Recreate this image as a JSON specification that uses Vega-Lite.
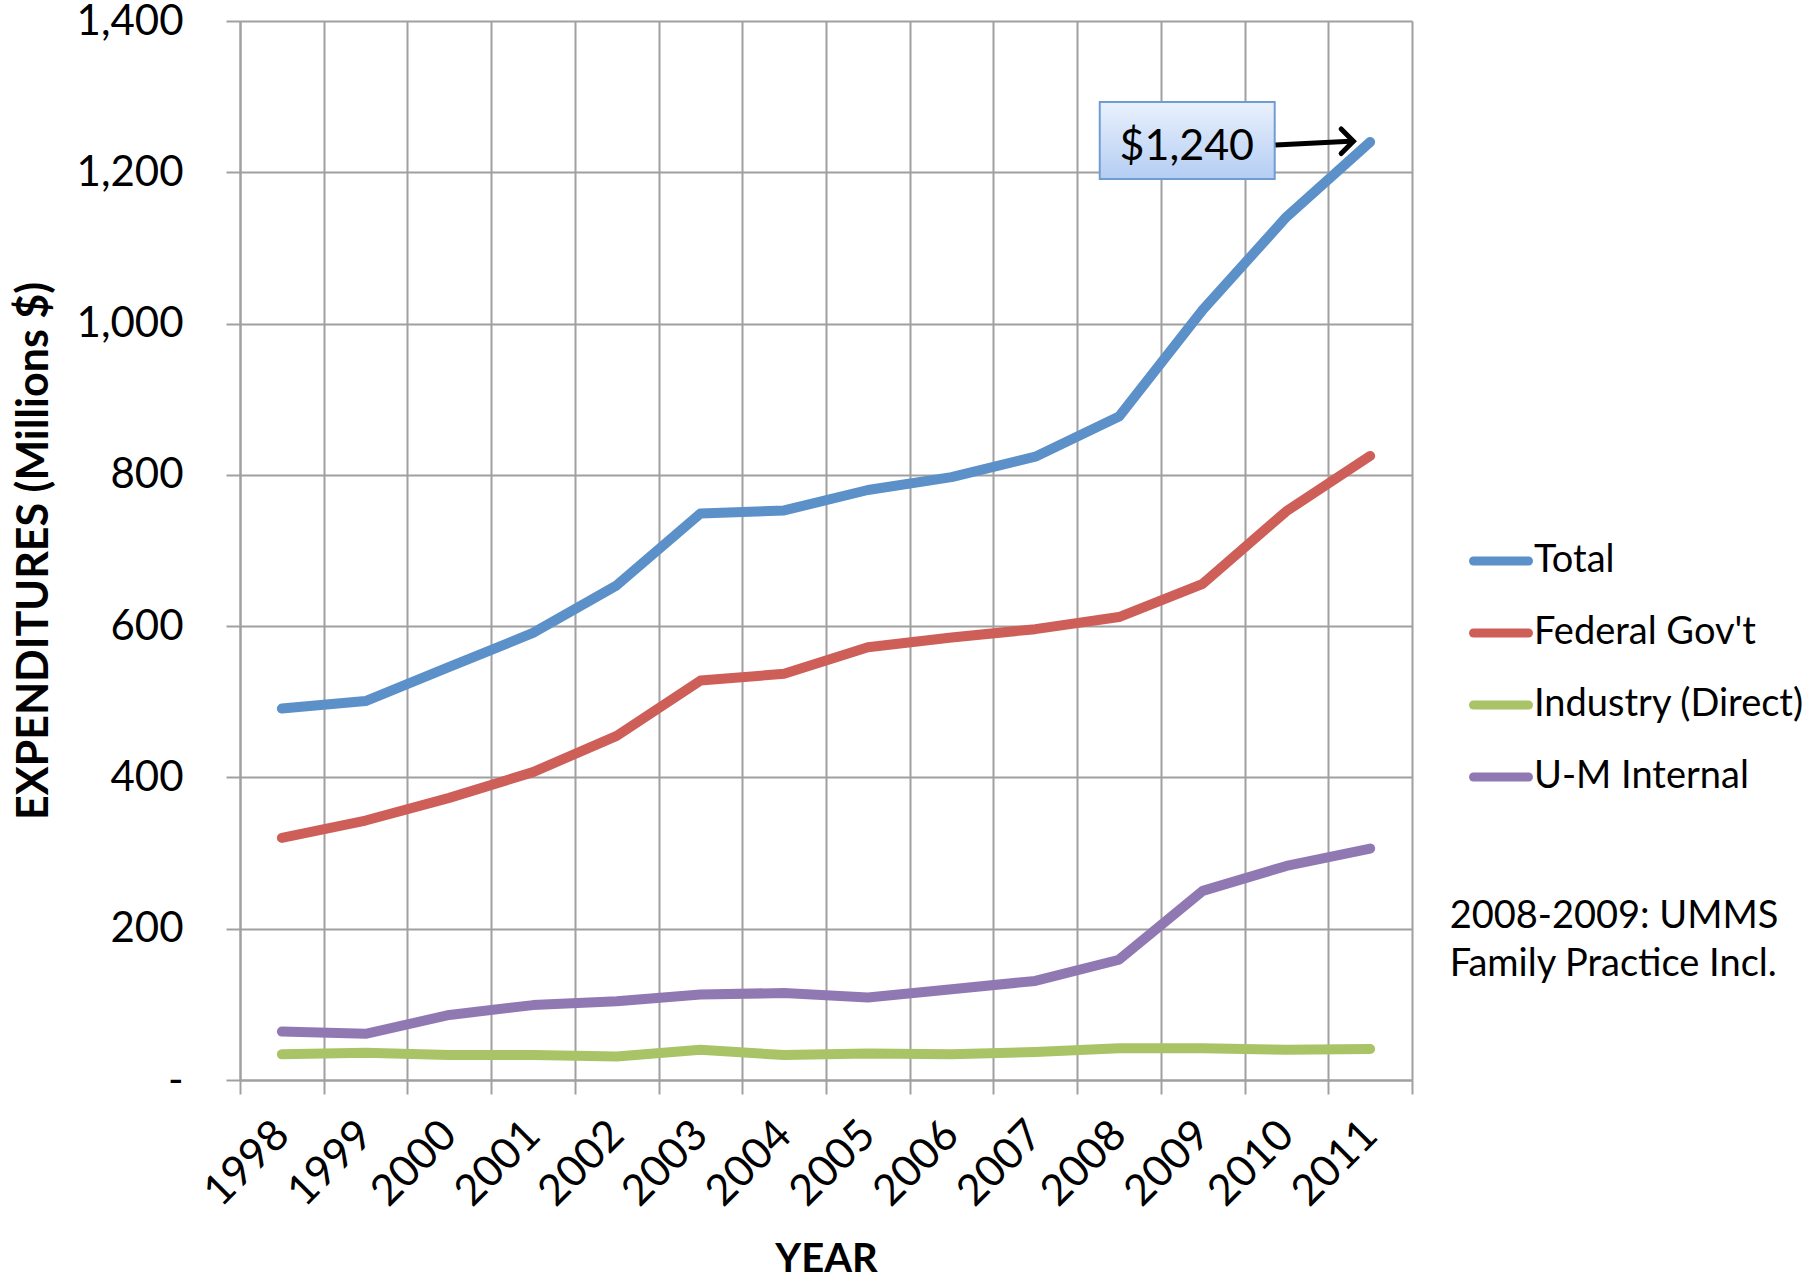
{
  "$schema": "https://vega.github.io/schema/vega-lite/v6.json",
  "width": 1172,
  "height": 1059,
  "autosize": {"type": "none"},
  "padding": {"left": 240, "top": 21, "right": 400, "bottom": 202},
  "background": "white",
  "config": {
    "font": "Lato",
    "view": {"stroke": null},
    "text": {"font": "Lato"}
  },
  "datasets": {
    "series": [
      {"year": 1998, "series": "Total", "value": 491},
      {"year": 1999, "series": "Total", "value": 501},
      {"year": 2000, "series": "Total", "value": 546},
      {"year": 2001, "series": "Total", "value": 591},
      {"year": 2002, "series": "Total", "value": 654},
      {"year": 2003, "series": "Total", "value": 749},
      {"year": 2004, "series": "Total", "value": 753},
      {"year": 2005, "series": "Total", "value": 780},
      {"year": 2006, "series": "Total", "value": 797},
      {"year": 2007, "series": "Total", "value": 824},
      {"year": 2008, "series": "Total", "value": 877},
      {"year": 2009, "series": "Total", "value": 1018},
      {"year": 2010, "series": "Total", "value": 1141},
      {"year": 2011, "series": "Total", "value": 1240},
      {"year": 1998, "series": "Federal Gov't", "value": 320},
      {"year": 1999, "series": "Federal Gov't", "value": 343},
      {"year": 2000, "series": "Federal Gov't", "value": 373},
      {"year": 2001, "series": "Federal Gov't", "value": 407},
      {"year": 2002, "series": "Federal Gov't", "value": 455},
      {"year": 2003, "series": "Federal Gov't", "value": 528},
      {"year": 2004, "series": "Federal Gov't", "value": 537},
      {"year": 2005, "series": "Federal Gov't", "value": 572},
      {"year": 2006, "series": "Federal Gov't", "value": 585},
      {"year": 2007, "series": "Federal Gov't", "value": 596},
      {"year": 2008, "series": "Federal Gov't", "value": 612},
      {"year": 2009, "series": "Federal Gov't", "value": 656},
      {"year": 2010, "series": "Federal Gov't", "value": 752},
      {"year": 2011, "series": "Federal Gov't", "value": 825},
      {"year": 1998, "series": "Industry (Direct)", "value": 34},
      {"year": 1999, "series": "Industry (Direct)", "value": 36},
      {"year": 2000, "series": "Industry (Direct)", "value": 33},
      {"year": 2001, "series": "Industry (Direct)", "value": 33},
      {"year": 2002, "series": "Industry (Direct)", "value": 31},
      {"year": 2003, "series": "Industry (Direct)", "value": 40},
      {"year": 2004, "series": "Industry (Direct)", "value": 33},
      {"year": 2005, "series": "Industry (Direct)", "value": 35},
      {"year": 2006, "series": "Industry (Direct)", "value": 34},
      {"year": 2007, "series": "Industry (Direct)", "value": 37},
      {"year": 2008, "series": "Industry (Direct)", "value": 42},
      {"year": 2009, "series": "Industry (Direct)", "value": 42},
      {"year": 2010, "series": "Industry (Direct)", "value": 40},
      {"year": 2011, "series": "Industry (Direct)", "value": 41},
      {"year": 1998, "series": "U-M Internal", "value": 64},
      {"year": 1999, "series": "U-M Internal", "value": 61},
      {"year": 2000, "series": "U-M Internal", "value": 86},
      {"year": 2001, "series": "U-M Internal", "value": 99},
      {"year": 2002, "series": "U-M Internal", "value": 104},
      {"year": 2003, "series": "U-M Internal", "value": 113},
      {"year": 2004, "series": "U-M Internal", "value": 115},
      {"year": 2005, "series": "U-M Internal", "value": 109},
      {"year": 2006, "series": "U-M Internal", "value": 120},
      {"year": 2007, "series": "U-M Internal", "value": 131},
      {"year": 2008, "series": "U-M Internal", "value": 159},
      {"year": 2009, "series": "U-M Internal", "value": 250},
      {"year": 2010, "series": "U-M Internal", "value": 283},
      {"year": 2011, "series": "U-M Internal", "value": 306}
    ]
  },
  "data": {"name": "series"},
  "resolve": {"axis": {"x": "independent"}, "scale": {"x": "shared"}},
  "layer": [
    {
      "mark": {"type": "line", "strokeWidth": 10, "strokeCap": "round", "strokeJoin": "round"},
      "encoding": {
        "x": {
          "field": "year", "type": "quantitative",
          "scale": {"domain": [1997.5, 2011.5], "nice": false, "zero": false},
          "axis": {
            "orient": "bottom",
            "values": [1997.5, 1998.5, 1999.5, 2000.5, 2001.5, 2002.5, 2003.5, 2004.5, 2005.5, 2006.5, 2007.5, 2008.5, 2009.5, 2010.5, 2011.5],
            "labels": false, "title": null,
            "grid": true, "gridColor": "#a0a0a0", "gridWidth": 2,
            "ticks": true, "tickSize": 14, "tickColor": "#a0a0a0", "tickWidth": 2,
            "domain": true, "domainColor": "#a0a0a0", "domainWidth": 2
          }
        },
        "y": {
          "field": "value", "type": "quantitative",
          "title": "EXPENDITURES (Millions $)",
          "scale": {"domain": [0, 1400], "nice": false},
          "axis": {
            "values": [0, 200, 400, 600, 800, 1000, 1200, 1400],
            "labelExpr": "datum.value === 0 ? '-\u2007' : format(datum.value, ',')",
            "labelFontSize": 42, "labelColor": "#000000", "labelPadding": 43, "labelFont": "Lato",
            "grid": true, "gridColor": "#a0a0a0", "gridWidth": 2,
            "ticks": true, "tickSize": 14, "tickColor": "#a0a0a0", "tickWidth": 2,
            "domain": true, "domainColor": "#a0a0a0", "domainWidth": 2,
            "title": "EXPENDITURES (Millions $)",
            "titleFontSize": 43, "titleFontWeight": "bold", "titleColor": "#000000", "titleFont": "Lato",
            "titlePadding": 20
          }
        },
        "color": {
          "field": "series", "type": "nominal",
          "scale": {
            "domain": ["Total", "Federal Gov't", "Industry (Direct)", "U-M Internal"],
            "range": ["#5b90c8", "#cd5f58", "#a8c467", "#9079b3"]
          },
          "legend": {
            "title": null, "orient": "none", "legendX": 1229, "legendY": 508,
            "symbolType": "stroke", "symbolSize": 3025, "symbolStrokeWidth": 9,
            "labelFontSize": 38, "labelColor": "#000000", "labelFont": "Lato",
            "labelOffset": 1, "rowPadding": 21, "padding": 0, "labelLimit": 400,
            "encode": {"symbols": {"update": {"strokeCap": {"value": "round"}}}}
          }
        }
      }
    },
    {
      "transform": [{"filter": "datum.series === 'Total' && datum.year === 2011"}],
      "mark": {
        "type": "rect",
        "fill": {"gradient": "linear", "x1": 0, "y1": 0, "x2": 0, "y2": 1,
          "stops": [{"offset": 0, "color": "#eaf1fd"}, {"offset": 1, "color": "#b4cdf3"}]},
        "stroke": "#6f9dd3", "strokeWidth": 2
      },
      "encoding": {
        "x": {"datum": 2007.77, "type": "quantitative", "axis": null},
        "x2": {"datum": 2009.86},
        "y": {"datum": 1293, "type": "quantitative", "title": "EXPENDITURES (Millions $)"},
        "y2": {"datum": 1191}
      }
    },
    {
      "transform": [{"filter": "datum.series === 'Total' && datum.year === 2011"}],
      "mark": {"type": "text", "fontSize": 43, "color": "#000000", "align": "center", "baseline": "middle", "font": "Lato"},
      "encoding": {
        "x": {"datum": 2008.81, "type": "quantitative", "axis": null},
        "y": {"datum": 1233, "type": "quantitative", "title": "EXPENDITURES (Millions $)"},
        "text": {"field": "value", "type": "quantitative", "format": "$,"}
      }
    },
    {
      "transform": [{"filter": "datum.series === 'Total' && datum.year === 2011"}],
      "mark": {"type": "rule", "color": "#000000", "strokeWidth": 5},
      "encoding": {
        "x": {"datum": 2009.87, "type": "quantitative", "axis": null},
        "x2": {"datum": 2010.76},
        "y": {"datum": 1236, "type": "quantitative", "title": "EXPENDITURES (Millions $)"},
        "y2": {"datum": 1241}
      }
    },
    {
      "transform": [{"filter": "datum.series === 'Total' && datum.year === 2011"}],
      "mark": {"type": "point", "shape": "M -1 -1 L 0 0 L -1 1", "filled": false, "stroke": "#000000", "strokeWidth": 5, "size": 600, "opacity": 1, "strokeCap": "round", "strokeJoin": "miter"},
      "encoding": {
        "x": {
          "datum": 2010.8, "type": "quantitative",
          "axis": {
            "orient": "bottom",
            "values": [1998, 1999, 2000, 2001, 2002, 2003, 2004, 2005, 2006, 2007, 2008, 2009, 2010, 2011],
            "format": "d",
            "labelAngle": -45, "labelAlign": "right", "labelBaseline": "middle",
            "labelFontSize": 43, "labelColor": "#000000", "labelFont": "Lato",
            "labelPadding": 48, "labelDx": 11, "labelDy": 4, "labelOverlap": false, "labelFlush": false,
            "ticks": false, "tickSize": 0, "grid": false, "domain": false,
            "title": "YEAR", "titleFontSize": 40, "titleFontWeight": "bold", "titleColor": "#000000", "titleFont": "Lato",
            "titlePadding": 25
          }
        },
        "y": {"datum": 1241, "type": "quantitative", "title": "EXPENDITURES (Millions $)"}
      }
    },
    {
      "transform": [{"filter": "datum.series === 'Total' && datum.year === 2011"}],
      "mark": {"type": "text", "text": ["2008-2009: UMMS", "Family Practice Incl."], "fontSize": 38, "lineHeight": 48, "color": "#000000", "align": "left", "baseline": "middle", "font": "Lato"},
      "encoding": {
        "x": {"datum": 2011.95, "type": "quantitative", "axis": null},
        "y": {"datum": 215, "type": "quantitative", "title": "EXPENDITURES (Millions $)"}
      }
    }
  ]
}
